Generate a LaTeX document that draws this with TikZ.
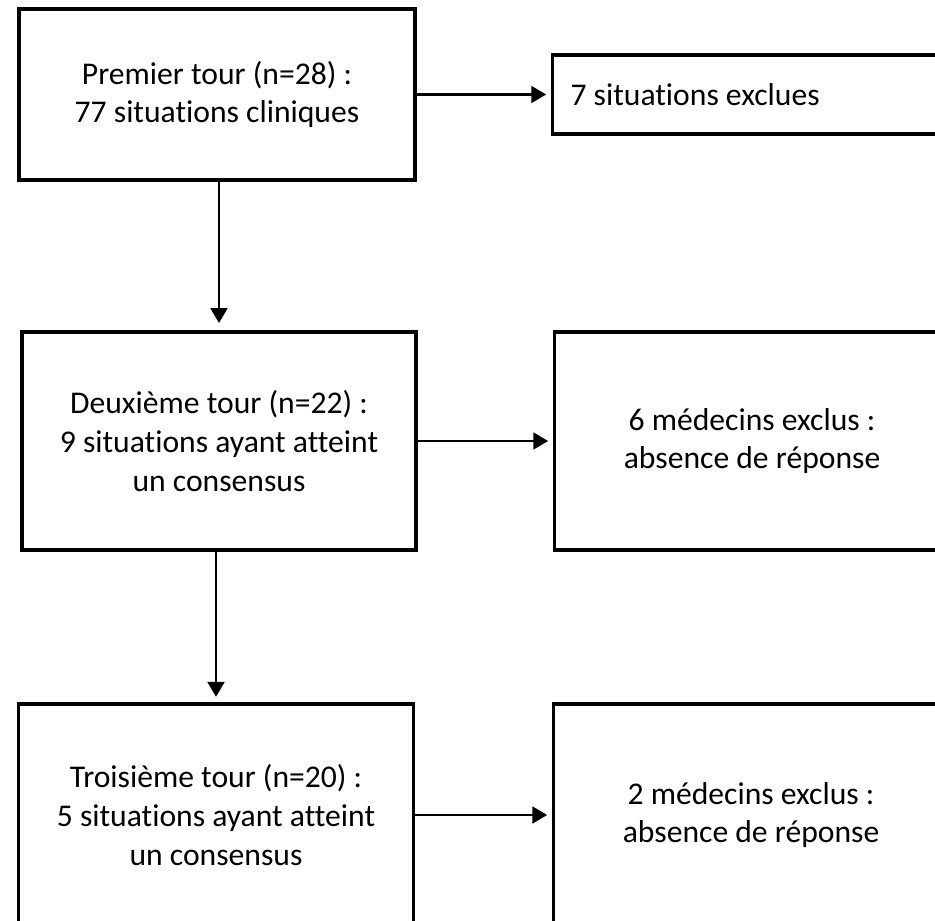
\documentclass[tikz,border=0pt]{standalone}
\usepackage{fontspec}
\setmainfont[Ligatures=NoCommon]{Carlito}
\usetikzlibrary{arrows.meta,positioning}
\tikzset{tourbox/.style={draw,rectangle,line width=2.2pt,align=center,
        font=\fontsize{18}{22}\selectfont},
    exclbox/.style={tourbox,minimum width=7.9cm},
    fleche/.style={-{Triangle[length=8.5pt,width=9.5pt]},line width=1.6pt,shorten >=2.5pt}
}

\begin{document}
\begin{tikzpicture}[x=0.02cm,y=-0.02cm]

\useasboundingbox (0,0) rectangle (935,920);
\clip (0,0) rectangle (935,920);

% left column: the rounds
\node (tour1) [tourbox,minimum width=7.92cm,minimum height=3.42cm] at (217,94.5)
    {Premier tour (n=28) :\\77 situations cliniques};
\node (tour2) [tourbox,minimum width=7.88cm,minimum height=4.36cm] at (219,441)
    {Deuxième tour (n=22) :\\9 situations ayant atteint\\un consensus};
\node (tour3) [tourbox,minimum width=7.9cm,minimum height=4.44cm] at (216,815)
    {Troisième tour (n=20) :\\5 situations ayant atteint\\un consensus};

% right column: exclusions
\node (excl1) [exclbox,minimum height=1.58cm,text width=7.18cm,inner xsep=0.36cm,align=flush left]
    at (750,94.5) {7 situations exclues};
\node (excl2) [exclbox,minimum height=4.36cm] at (752,441)
    {6 médecins exclus :\\absence de réponse};
\node (excl3) [exclbox,minimum height=4.44cm] at (751,815)
    {2 médecins exclus :\\absence de réponse};

\foreach \a/\b in {tour1/excl1,tour2/excl2,tour3/excl3}
    \draw [fleche] (\a) -- (\b);

\draw [fleche,shorten >=4pt] (tour1.south -| tour2.north) -- (tour2.north);
\draw [fleche,shorten >=3pt] (tour2.south -| tour3.north) -- (tour3.north);

\end{tikzpicture}
\end{document}
